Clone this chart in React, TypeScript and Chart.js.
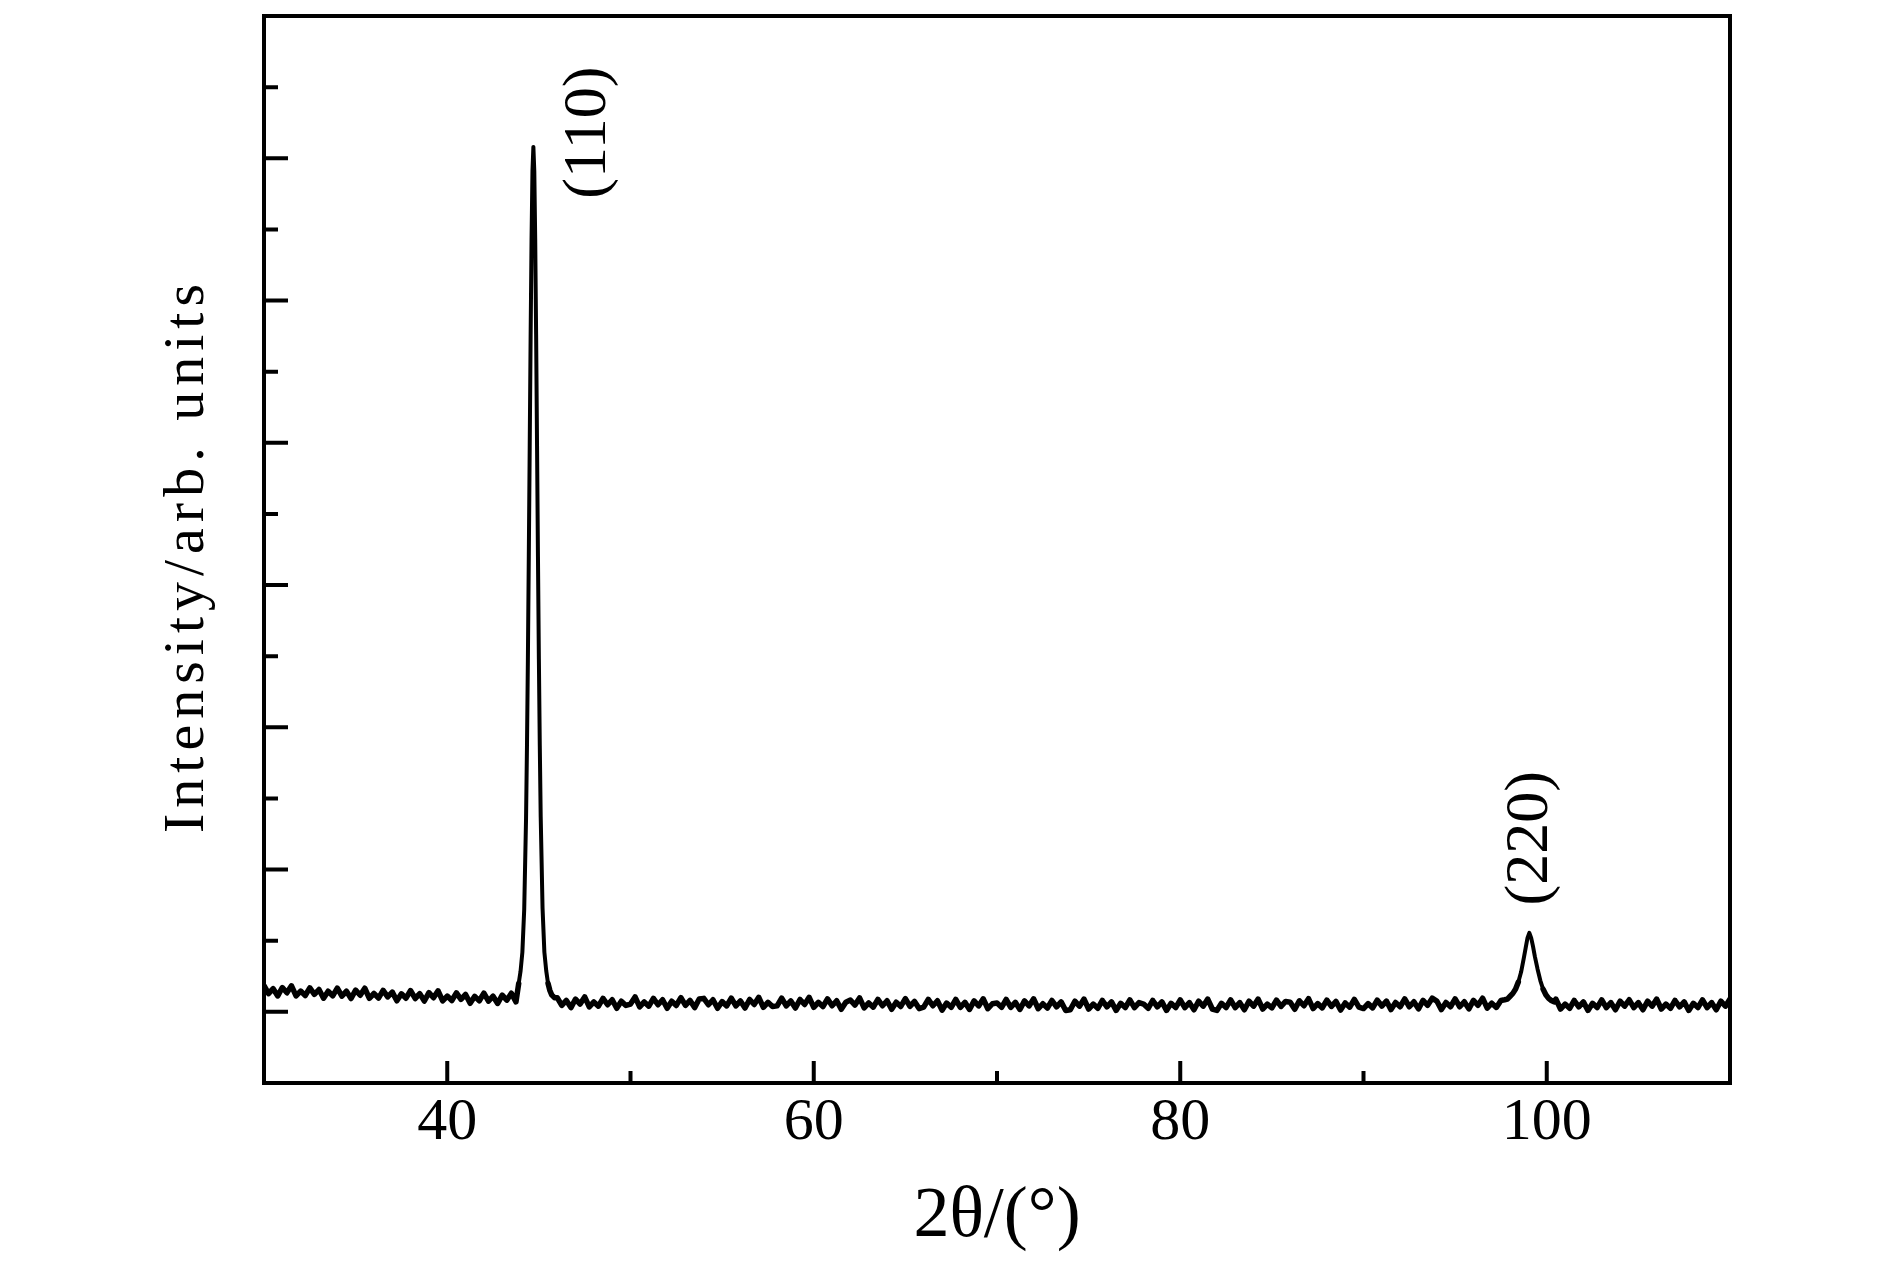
import React, { useEffect, useRef } from "react";
import { Chart, registerables } from "chart.js";

Chart.register(...registerables);

// ---- data (2θ in degrees, intensity in arbitrary units) ----
const baselineLow: [number, number][] = [
  [30.0, 0.185], [30.25, 0.129], [30.5, 0.163], [30.75, 0.112], [31.0, 0.171], [31.25, 0.134], [31.5, 0.183], [31.75, 0.112],
  [32.0, 0.146], [32.25, 0.115], [32.5, 0.169], [32.75, 0.123], [33.0, 0.157], [33.25, 0.096], [33.5, 0.145], [33.75, 0.113],
  [34.0, 0.167], [34.25, 0.111], [34.5, 0.145], [34.75, 0.094], [35.0, 0.153], [35.25, 0.117], [35.5, 0.166], [35.75, 0.095],
  [36.0, 0.129], [36.25, 0.097], [36.5, 0.151], [36.75, 0.105], [37.0, 0.139], [37.25, 0.078], [37.5, 0.127], [37.75, 0.096],
  [38.0, 0.15], [38.25, 0.094], [38.5, 0.128], [38.75, 0.076], [39.0, 0.135], [39.25, 0.099], [39.5, 0.148], [39.75, 0.077],
  [40.0, 0.111], [40.25, 0.08], [40.5, 0.134], [40.75, 0.088], [41.0, 0.122], [41.25, 0.06], [41.5, 0.109], [41.75, 0.078],
  [42.0, 0.132], [42.25, 0.076], [42.5, 0.11], [42.75, 0.059], [43.0, 0.118], [43.25, 0.082], [43.5, 0.131], [43.75, 0.07],
];

const peak110: [number, number][] = [
  [43.9, 0.2], [44.0, 0.285], [44.1, 0.42], [44.2, 0.72], [44.3, 1.36], [44.35, 1.86], [44.4, 2.47], [44.45, 3.2],
  [44.5, 3.97], [44.55, 4.75], [44.6, 5.43], [44.65, 5.91], [44.7, 6.08], [44.75, 5.91], [44.8, 5.43], [44.85, 4.76],
  [44.9, 3.98], [44.95, 3.2], [45.0, 2.48], [45.05, 1.87], [45.1, 1.37], [45.2, 0.73], [45.3, 0.42], [45.4, 0.29],
  [45.5, 0.2], [45.6, 0.15], [45.7, 0.12], [45.85, 0.1],
];

const baselineMid: [number, number][] = [
  [46.0, 0.1], [46.25, 0.045], [46.5, 0.08], [46.75, 0.03], [47.0, 0.09], [47.25, 0.055], [47.5, 0.105], [47.75, 0.035],
  [48.0, 0.07], [48.25, 0.04], [48.5, 0.095], [48.75, 0.05], [49.0, 0.085], [49.25, 0.025], [49.5, 0.075], [49.75, 0.045],
  [50.0, 0.055], [50.25, 0.105], [50.5, 0.035], [50.75, 0.07], [51.0, 0.04], [51.25, 0.095], [51.5, 0.05], [51.75, 0.085],
  [52.0, 0.025], [52.25, 0.075], [52.5, 0.045], [52.75, 0.1], [53.0, 0.045], [53.25, 0.08], [53.5, 0.03], [53.75, 0.09],
  [54.0, 0.095], [54.25, 0.05], [54.5, 0.085], [54.75, 0.025], [55.0, 0.072], [55.25, 0.042], [55.5, 0.097], [55.75, 0.042],
  [56.0, 0.077], [56.25, 0.027], [56.5, 0.087], [56.75, 0.052], [57.0, 0.102], [57.25, 0.032], [57.5, 0.067], [57.75, 0.037],
  [58.0, 0.042], [58.25, 0.097], [58.5, 0.042], [58.75, 0.077], [59.0, 0.027], [59.25, 0.087], [59.5, 0.052], [59.75, 0.102],
  [60.0, 0.032], [60.25, 0.067], [60.5, 0.037], [60.75, 0.092], [61.0, 0.043], [61.25, 0.078], [61.5, 0.018], [61.75, 0.068],
  [62.0, 0.083], [62.25, 0.048], [62.5, 0.098], [62.75, 0.028], [63.0, 0.063], [63.25, 0.033], [63.5, 0.088], [63.75, 0.043],
  [64.0, 0.078], [64.25, 0.018], [64.5, 0.068], [64.75, 0.038], [65.0, 0.093], [65.25, 0.038], [65.5, 0.073], [65.75, 0.023],
  [66.0, 0.033], [66.25, 0.088], [66.5, 0.043], [66.75, 0.078], [67.0, 0.012], [67.25, 0.062], [67.5, 0.032], [67.75, 0.087],
  [68.0, 0.032], [68.25, 0.067], [68.5, 0.017], [68.75, 0.077], [69.0, 0.042], [69.25, 0.092], [69.5, 0.022], [69.75, 0.057],
  [70.0, 0.062], [70.25, 0.032], [70.5, 0.087], [70.75, 0.032], [71.0, 0.067], [71.25, 0.017], [71.5, 0.077], [71.75, 0.042],
  [72.0, 0.092], [72.25, 0.022], [72.5, 0.057], [72.75, 0.027], [73.0, 0.08], [73.25, 0.035], [73.5, 0.07], [73.75, 0.01],
  [74.0, 0.015], [74.25, 0.075], [74.5, 0.04], [74.75, 0.09], [75.0, 0.02], [75.25, 0.055], [75.5, 0.025], [75.75, 0.08],
  [76.0, 0.035], [76.25, 0.07], [76.5, 0.01], [76.75, 0.06], [77.0, 0.03], [77.25, 0.085], [77.5, 0.03], [77.75, 0.065],
  [78.0, 0.055], [78.25, 0.025], [78.5, 0.08], [78.75, 0.035], [79.0, 0.07], [79.25, 0.01], [79.5, 0.06], [79.75, 0.03],
  [80.0, 0.085], [80.25, 0.03], [80.5, 0.065], [80.75, 0.015], [81.0, 0.075], [81.25, 0.04], [81.5, 0.09], [81.75, 0.02],
  [82.0, 0.01], [82.25, 0.06], [82.5, 0.03], [82.75, 0.085], [83.0, 0.03], [83.25, 0.065], [83.5, 0.015], [83.75, 0.075],
  [84.0, 0.04], [84.25, 0.09], [84.5, 0.02], [84.75, 0.055], [85.0, 0.028], [85.25, 0.083], [85.5, 0.038], [85.75, 0.073],
  [86.0, 0.068], [86.25, 0.018], [86.5, 0.078], [86.75, 0.043], [87.0, 0.093], [87.25, 0.023], [87.5, 0.058], [87.75, 0.028],
  [88.0, 0.083], [88.25, 0.038], [88.5, 0.073], [88.75, 0.013], [89.0, 0.063], [89.25, 0.033], [89.5, 0.088], [89.75, 0.033],
  [90.0, 0.023], [90.25, 0.058], [90.5, 0.028], [90.75, 0.083], [91.0, 0.041], [91.25, 0.076], [91.5, 0.016], [91.75, 0.066],
  [92.0, 0.036], [92.25, 0.091], [92.5, 0.036], [92.75, 0.071], [93.0, 0.021], [93.25, 0.081], [93.5, 0.046], [93.75, 0.096],
  [94.0, 0.076], [94.25, 0.016], [94.5, 0.066], [94.75, 0.036], [95.0, 0.091], [95.25, 0.036], [95.5, 0.071], [95.75, 0.021],
  [96.0, 0.081], [96.25, 0.046], [96.5, 0.096], [96.75, 0.026], [97.0, 0.061], [97.25, 0.031], [97.5, 0.08],
];

const peak220: [number, number][] = [
  [97.7, 0.085], [97.85, 0.09], [98.0, 0.11], [98.15, 0.13], [98.3, 0.16], [98.45, 0.21], [98.6, 0.28], [98.75, 0.38],
  [98.85, 0.45], [98.95, 0.52], [99.05, 0.555], [99.15, 0.52], [99.25, 0.46], [99.35, 0.39], [99.5, 0.3], [99.65, 0.22],
  [99.8, 0.16], [99.95, 0.12], [100.1, 0.095], [100.25, 0.08], [100.4, 0.07],
];

const baselineHigh: [number, number][] = [
  [100.5, 0.09], [100.75, 0.02], [101.0, 0.055], [101.25, 0.025], [101.5, 0.08], [101.75, 0.035], [102.0, 0.07], [102.25, 0.01],
  [102.5, 0.06], [102.75, 0.03], [103.0, 0.085], [103.25, 0.03], [103.5, 0.065], [103.75, 0.015], [104.0, 0.075], [104.25, 0.04],
  [104.5, 0.085], [104.75, 0.03], [105.0, 0.065], [105.25, 0.015], [105.5, 0.075], [105.75, 0.04], [106.0, 0.09], [106.25, 0.02],
  [106.5, 0.055], [106.75, 0.025], [107.0, 0.08], [107.25, 0.035], [107.5, 0.07], [107.75, 0.01], [108.0, 0.06], [108.25, 0.03],
  [108.5, 0.085], [108.75, 0.03], [109.0, 0.065], [109.25, 0.015], [109.5, 0.075], [109.75, 0.04], [110.0, 0.09],
];

const xMajorTicks = [40, 60, 80, 100];
const xMinorTicks = [50, 70, 90];
const yMajorTicks = [0, 1, 2, 3, 4, 5, 6];
const yMinorTicks = [0.5, 1.5, 2.5, 3.5, 4.5, 5.5, 6.5];
const peakLabels = [
  { text: "(110)", x: 47.7, y: 6.18 },
  { text: "(220)", x: 99.1, y: 1.22 },
];
const xTitle = "2θ/(°)";
const yTitle = "Intensity/arb. units";

const SERIF = '"Liberation Serif", "Times New Roman", serif';

const framePlugin = {
  id: "frameAndLabels",
  afterDatasetsDraw(chart: any) {
    const { ctx, chartArea, scales } = chart;
    const { left, right, top, bottom } = chartArea;
    const xs = scales.x;
    const ys = scales.y;
    ctx.save();
    ctx.strokeStyle = "#000";
    ctx.lineWidth = 4;
    ctx.lineCap = "butt";
    ctx.strokeRect(left, top, right - left, bottom - top);
    ctx.beginPath();
    for (const v of xMajorTicks) {
      const px = xs.getPixelForValue(v);
      ctx.moveTo(px, bottom);
      ctx.lineTo(px, bottom - 22);
    }
    for (const v of xMinorTicks) {
      const px = xs.getPixelForValue(v);
      ctx.moveTo(px, bottom);
      ctx.lineTo(px, bottom - 12);
    }
    for (const v of yMajorTicks) {
      const py = ys.getPixelForValue(v);
      ctx.moveTo(left, py);
      ctx.lineTo(left + 24, py);
    }
    for (const v of yMinorTicks) {
      const py = ys.getPixelForValue(v);
      ctx.moveTo(left, py);
      ctx.lineTo(left + 14, py);
    }
    ctx.stroke();

    ctx.fillStyle = "#000";
    ctx.textAlign = "center";
    ctx.textBaseline = "middle";
    ctx.font = `62px ${SERIF}`;
    for (const p of peakLabels) {
      const px = xs.getPixelForValue(p.x);
      const py = ys.getPixelForValue(p.y);
      ctx.save();
      ctx.translate(px, py);
      ctx.rotate(-Math.PI / 2);
      ctx.fillText(p.text, 0, 0);
      ctx.restore();
    }

    // y-axis title
    ctx.save();
    ctx.font = `58px ${SERIF}`;
    (ctx as any).letterSpacing = "6px";
    ctx.translate(left - 76, (top + bottom) / 2 + 6);
    ctx.rotate(-Math.PI / 2);
    ctx.fillText(yTitle, 0, 0);
    ctx.restore();
    ctx.restore();
  },
};

export default function App() {
  const canvasRef = useRef<HTMLCanvasElement | null>(null);

  useEffect(() => {
    const canvas = canvasRef.current;
    if (!canvas) return;
    const points = [...baselineLow, ...peak110, ...baselineMid, ...peak220, ...baselineHigh].map(([x, y]) => ({ x, y }));
    const chart = new Chart(canvas, {
      type: "line",
      data: {
        datasets: [
          {
            data: points,
            borderColor: "#000",
            borderWidth: 4,
            borderDash: [100000, 0],
            borderJoinStyle: "round",
            borderCapStyle: "round",
            pointRadius: 0,
            tension: 0,
            fill: false,
            segment: {
              borderWidth: (c: any) => (c.p0.parsed.y < 0.22 && c.p1.parsed.y < 0.22 ? 5.5 : 4),
            },
          } as any,
        ],
      },
      options: {
        responsive: false,
        animation: false,
        devicePixelRatio: 1,
        layout: { padding: { left: 0, top: 16, right: 160, bottom: 0 } },
        plugins: { legend: { display: false }, tooltip: { enabled: false } },
        scales: {
          x: {
            type: "linear",
            min: 30,
            max: 110,
            grid: { display: false, drawTicks: false },
            border: { display: false },
            ticks: {
              stepSize: 10,
              autoSkip: false,
              maxRotation: 0,
              padding: 4,
              color: "#000",
              font: { family: SERIF, size: 60 },
              callback: (v: any) => (Number(v) % 20 === 0 ? String(v) : ""),
            },
            title: {
              display: true,
              text: xTitle,
              color: "#000",
              font: { family: SERIF, size: 72 },
              padding: { top: 0, bottom: 4 },
            },
            afterFit: (s: any) => {
              s.height = 181;
            },
          },
          y: {
            type: "linear",
            min: -0.5,
            max: 7,
            grid: { display: false, drawTicks: false },
            border: { display: false },
            ticks: { display: false, stepSize: 0.5 },
            afterFit: (s: any) => {
              s.width = 264;
            },
          },
        },
      },
      plugins: [framePlugin],
    });
    return () => chart.destroy();
  }, []);

  return (
    <div style={{ position: "absolute", left: 0, top: 0, width: 1890, height: 1264, background: "#fff" }}>
      <canvas ref={canvasRef} width={1890} height={1264} />
    </div>
  );
}
